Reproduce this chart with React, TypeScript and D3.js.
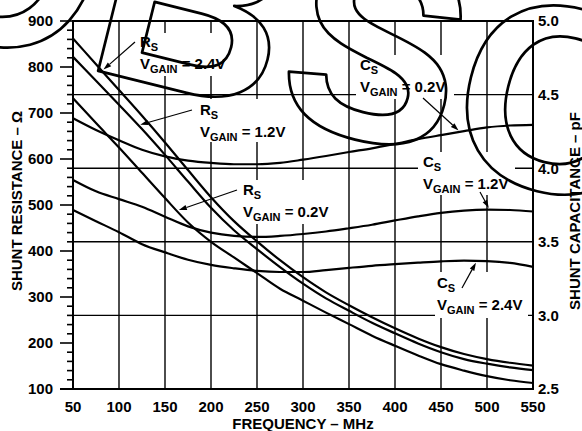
import React from 'react';
import * as d3 from 'd3';

// Frequency grid (MHz) shared by every series
const frequencies = [50, 75, 100, 125, 150, 175, 200, 225, 250, 275, 300, 325, 350, 375, 400, 425, 450, 475, 500, 525, 550];

// Shunt resistance (Ω), left axis
const rsGain24 = [862, 806, 750, 694, 636, 576, 517, 465, 421, 380, 343, 310, 282, 256, 232, 210, 191, 176, 165, 157, 151];
const rsGain12 = [822, 770, 718, 665, 609, 551, 494, 445, 404, 365, 329, 297, 270, 244, 221, 199, 180, 165, 155, 147, 141];
const rsGain02 = [732, 678, 625, 570, 515, 462, 420, 386, 352, 318, 292, 266, 241, 216, 194, 173, 154, 140, 128, 119, 113];

// Shunt capacitance (pF), right axis
const csGain02 = [4.34, 4.26, 4.19, 4.125, 4.08, 4.052, 4.036, 4.027, 4.027, 4.036, 4.058, 4.083, 4.11, 4.135, 4.165, 4.197, 4.225, 4.252, 4.277, 4.29, 4.295];
const csGain12 = [3.92, 3.843, 3.79, 3.738, 3.67, 3.605, 3.562, 3.54, 3.533, 3.54, 3.553, 3.57, 3.592, 3.616, 3.645, 3.673, 3.697, 3.712, 3.718, 3.716, 3.706];
const csGain24 = [3.716, 3.64, 3.565, 3.484, 3.428, 3.378, 3.343, 3.32, 3.302, 3.295, 3.295, 3.308, 3.323, 3.337, 3.348, 3.358, 3.367, 3.372, 3.369, 3.357, 3.33];

// Axis ticks
const freqTicks = [50, 100, 150, 200, 250, 300, 350, 400, 450, 500, 550];
const ohmTicks = [100, 200, 300, 400, 500, 600, 700, 800, 900];
const ohmMinorStep = 20;
const pfTicks = [2.5, 3.0, 3.5, 4.0, 4.5, 5.0];

const W = 582;
const H = 431;
const plot = { left: 73, right: 533, top: 21, bottom: 389 };
const FONT = '"Liberation Sans", Arial, Helvetica, sans-serif';

const x = d3.scaleLinear().domain([50, 550]).range([plot.left, plot.right]);
const yOhm = d3.scaleLinear().domain([100, 900]).range([plot.bottom, plot.top]);
const yPf = d3.scaleLinear().domain([2.5, 5.0]).range([plot.bottom, plot.top]);

type Series = { key: string; values: number[]; scale: d3.ScaleLinear<number, number> };

const series: Series[] = [
  { key: 'rs24', values: rsGain24, scale: yOhm },
  { key: 'rs12', values: rsGain12, scale: yOhm },
  { key: 'rs02', values: rsGain02, scale: yOhm },
  { key: 'cs02', values: csGain02, scale: yPf },
  { key: 'cs12', values: csGain12, scale: yPf },
  { key: 'cs24', values: csGain24, scale: yPf },
];

const seriesByKey: Record<string, Series> = Object.fromEntries(series.map((s) => [s.key, s]));

const valueAt = (s: Series, f: number) => {
  const i = Math.max(0, Math.min(frequencies.length - 2, d3.bisectRight(frequencies, f) - 1));
  const t = (f - frequencies[i]) / (frequencies[i + 1] - frequencies[i]);
  return s.values[i] + (s.values[i + 1] - s.values[i]) * t;
};

// Curve labels: name, gain text, text anchor, arrow tail, the frequency the arrow points at, backing box
const callouts = [
  { series: 'rs24', name: 'R', gain: '2.4V', tx: 140, ty: 47, tail: [135, 42], f: 81.5, box: [136, 33, 99, 43] },
  { series: 'rs12', name: 'R', gain: '1.2V', tx: 200, ty: 115, tail: [192, 110], f: 121, box: [196, 99, 96, 43] },
  { series: 'rs02', name: 'R', gain: '0.2V', tx: 243, ty: 195, tail: [237, 190], f: 163, box: [239, 180, 98, 44] },
  { series: 'cs02', name: 'C', gain: '0.2V', tx: 360, ty: 70, tail: [423, 98], f: 470.7, box: [356, 55, 98, 44] },
  { series: 'cs12', name: 'C', gain: '1.2V', tx: 423, ty: 167, tail: [480, 192], f: 503, box: [418, 152, 97, 43] },
  { series: 'cs24', name: 'C', gain: '2.4V', tx: 437, ty: 288, tail: [462, 288], f: 489, box: [435, 272, 93, 46] },
];

const line = (s: Series) =>
  d3
    .line<number>()
    .x((_, i) => x(frequencies[i]))
    .y((v) => s.scale(v))
    .curve(d3.curveMonotoneX)(s.values) as string;

function Arrow({ from, to }: { from: number[]; to: number[] }) {
  const dx = to[0] - from[0];
  const dy = to[1] - from[1];
  const len = Math.hypot(dx, dy);
  const ux = dx / len;
  const uy = dy / len;
  const tip = [to[0] - ux * 2, to[1] - uy * 2];
  const headLen = 8;
  const headW = 2.6;
  const base = [tip[0] - ux * headLen, tip[1] - uy * headLen];
  const p1 = [base[0] - uy * headW, base[1] + ux * headW];
  const p2 = [base[0] + uy * headW, base[1] - ux * headW];
  return (
    <g>
      <line x1={from[0]} y1={from[1]} x2={base[0]} y2={base[1]} stroke="#000" strokeWidth={1.2} />
      <polygon points={`${tip[0]},${tip[1]} ${p1[0]},${p1[1]} ${p2[0]},${p2[1]}`} fill="#000" />
    </g>
  );
}

export default function App() {
  const minorOhm = d3.range(100, 900 + 1, ohmMinorStep);
  const gridFreq = freqTicks.slice(1, -1);
  const gridPf = pfTicks.slice(1, -1);

  return (
    <svg
      width={W}
      height={H}
      viewBox={`0 0 ${W} ${H}`}
      style={{ position: 'absolute', left: 0, top: 0, background: '#fff' }}
      fontFamily={FONT}
      fontWeight="bold"
    >
      <rect width={W} height={H} fill="#fff" />

      {/* grid */}
      <g stroke="#000" strokeWidth={1.4}>
        {gridFreq.map((f) => (
          <line key={`gv${f}`} x1={x(f)} x2={x(f)} y1={plot.top} y2={plot.bottom} />
        ))}
        {gridPf.map((p) => (
          <line key={`gh${p}`} x1={plot.left} x2={plot.right} y1={yPf(p)} y2={yPf(p)} />
        ))}
      </g>

      {/* label backings that break the grid */}
      {callouts.map((c) => (
        <rect key={`bg${c.series}`} x={c.box[0]} y={c.box[1]} width={c.box[2]} height={c.box[3]} fill="#fff" />
      ))}

      {/* frame */}
      <g stroke="#000" strokeWidth={2}>
        <line x1={plot.left} x2={plot.right} y1={plot.top} y2={plot.top} />
        <line x1={plot.left - 13} x2={plot.right + 1} y1={plot.bottom} y2={plot.bottom} />
        <line x1={plot.left} x2={plot.left} y1={plot.top - 1} y2={plot.bottom + 1} />
        <line x1={plot.right} x2={plot.right} y1={plot.top - 1} y2={plot.bottom + 1} />
      </g>

      {/* left axis ticks */}
      <g stroke="#000" strokeWidth={1.6}>
        {minorOhm.map((v) => (
          <line
            key={`t${v}`}
            x1={ohmTicks.includes(v) ? plot.left - 13 : plot.left - 6}
            x2={plot.left}
            y1={yOhm(v)}
            y2={yOhm(v)}
          />
        ))}
      </g>

      {/* tick labels */}
      <g fontSize={15} fill="#000">
        {ohmTicks.map((v) => (
          <text key={`ly${v}`} x={plot.left - 20} y={yOhm(v)} dy="0.36em" textAnchor="end">
            {v}
          </text>
        ))}
        {pfTicks.map((v) => (
          <text key={`ry${v}`} x={plot.right + 5} y={yPf(v)} dy="0.36em" textAnchor="start">
            {d3.format('.1f')(v)}
          </text>
        ))}
        {freqTicks.map((f) => (
          <text key={`lx${f}`} x={x(f)} y={411.5} textAnchor="middle">
            {f}
          </text>
        ))}
      </g>

      {/* axis titles */}
      <g fontSize={15} fill="#000">
        <text x={(plot.left + plot.right) / 2} y={429} textAnchor="middle">
          FREQUENCY – MHz
        </text>
        <text transform="translate(21.5,201) rotate(-90)" textAnchor="middle">
          SHUNT RESISTANCE – Ω
        </text>
        <text transform="translate(580,211) rotate(-90)" textAnchor="middle">
          SHUNT CAPACITANCE – pF
        </text>
      </g>

      {/* curves */}
      <g fill="none" stroke="#000" strokeWidth={2.2}>
        {series.map((s) => (
          <path key={s.key} d={line(s)} />
        ))}
      </g>

      {/* callouts */}
      {callouts.map((c) => {
        const s = seriesByKey[c.series];
        const tip = [x(c.f), s.scale(valueAt(s, c.f))];
        return (
          <g key={`c${c.series}`} fill="#000" style={{ whiteSpace: 'pre' }}>
            <text x={c.tx} y={c.ty} fontSize={15}>
              <tspan>{c.name}</tspan>
              <tspan dy={4} fontSize={11}>S</tspan>
            </text>
            <text x={c.tx} y={c.ty + 22} fontSize={15}>
              <tspan>V</tspan>
              <tspan dy={4} fontSize={11}>GAIN</tspan>
              <tspan dy={-4}>{` = ${c.gain}`}</tspan>
            </text>
            <Arrow from={c.tail} to={tip} />
          </g>
        );
      })}

      {/* stamp */}
      <text
        transform="rotate(14)"
        x={-111.5}
        y={45}
        dx="0 0 4 -2"
        dy="0 0 2 6"
        fontSize={265}
        fill="none"
        stroke="#000"
        strokeWidth={2.7}
        strokeLinejoin="round"
      >
        OBSOLETE
      </text>
    </svg>
  );
}
